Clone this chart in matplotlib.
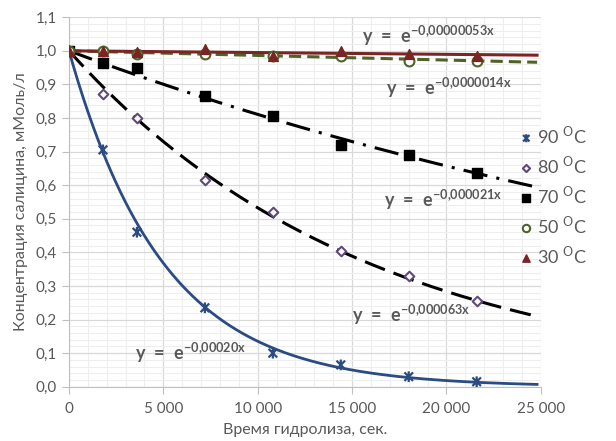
import numpy as np
import matplotlib.pyplot as plt
from matplotlib.path import Path
from matplotlib.ticker import MultipleLocator, FuncFormatter

plt.rcParams['font.family'] = ['Lato', 'DejaVu Sans']
plt.rcParams['mathtext.fontset'] = 'custom'
plt.rcParams['mathtext.rm'] = 'Lato'
plt.rcParams['mathtext.bf'] = 'Lato:bold'

# time points, s
t = [0, 1800, 3600, 7200, 10800, 14400, 18000, 21600]

c90 = [1.0, 0.705, 0.46, 0.235, 0.10, 0.065, 0.03, 0.015]
c80 = [1.0, 0.87, 0.80, 0.615, 0.52, 0.405, 0.33, 0.255]
c70 = [1.0, 0.965, 0.95, 0.865, 0.805, 0.72, 0.69, 0.635]
c50 = [1.0, 1.0, 0.99, 0.99, 0.985, 0.985, 0.97, 0.97]
c30 = [1.0, 1.0, 0.995, 1.005, 0.985, 1.0, 0.99, 0.985]

# trendline coefficients y = exp(-k x)
k = [0.00020, 0.000063, 0.000021, 0.0000014, 0.00000053]
k_txt = ['-0{,}00020x', '-0{,}000063x', '-0{,}000021x', '-0{,}0000014x', '-0{,}00000053x']
k_pos = [(3500, 0.10), (15000, 0.215), (16700, 0.555), (16800, 0.89), (15500, 1.045)]

labels = ['90', '80', '70', '50', '30']

star = Path([(0, -1), (0, 1), (-0.8, -0.8), (0.8, 0.8), (-0.8, 0.8), (0.8, -0.8)],
            [Path.MOVETO, Path.LINETO, Path.MOVETO, Path.LINETO, Path.MOVETO, Path.LINETO])

gray = '#595959'
fig = plt.figure(figsize=(6.16, 4.41), dpi=100)
ax = fig.add_axes([0.112, 0.123, 0.766, 0.838])

xx = np.linspace(0, 24800, 300)
line_cols = ['#2b4c82', 'black', 'black', '#4f6228', '#7b2424']
line_styles = ['-', (0, (7, 3)), (0, (8, 3, 1, 3)), (0, (4, 2)), '-']
for i in range(5):
    ax.plot(xx, np.exp(-k[i] * xx), color=line_cols[i], ls=line_styles[i],
            lw=2.2 if i != 0 else 2.0, zorder=3)

s90 = ax.scatter(t, c90, marker=star, s=60, facecolor='none', edgecolor='#2b4c82', lw=1.6, zorder=4)
s80 = ax.scatter(t, c80, marker='D', s=24, facecolor='white', edgecolor='#5f497a', lw=1.5, zorder=4)
s70 = ax.scatter(t, c70, marker='s', s=50, color='black', zorder=4)
s50 = ax.scatter(t, c50, marker='o', s=50, facecolor='white', edgecolor='#4f6228', lw=1.5, zorder=4)
s30 = ax.scatter(t, c30, marker='^', s=50, color='#7b2424', zorder=4)

for i in range(5):
    ax.text(k_pos[i][0], k_pos[i][1],
            r'$\mathbf{y\ =\ e}^{\mathbf{' + k_txt[i] + '}}$',
            color=gray, fontsize=13, va='center', ha='left', zorder=5)

ax.set_xlim(0, 25000)
ax.set_ylim(0, 1.1)
ax.xaxis.set_major_locator(MultipleLocator(5000))
ax.xaxis.set_minor_locator(MultipleLocator(1000))
ax.yaxis.set_major_locator(MultipleLocator(0.1))
ax.yaxis.set_minor_locator(MultipleLocator(0.02))
ax.xaxis.set_major_formatter(FuncFormatter(lambda v, p: f'{int(v):,}'.replace(',', ' ')))
ax.yaxis.set_major_formatter(FuncFormatter(lambda v, p: f'{v:.1f}'.replace('.', ',')))
ax.grid(which='major', color='#d9d9d9', lw=0.9)
ax.grid(which='minor', color='#eeeeee', lw=0.8)
ax.set_axisbelow(True)
for sp in ['top', 'right']:
    ax.spines[sp].set_visible(False)
ax.spines['left'].set_color('#bfbfbf')
ax.spines['bottom'].set_color('#bfbfbf')
ax.tick_params(which='major', colors='#bfbfbf', labelcolor=gray, labelsize=11, length=5)
ax.tick_params(which='minor', length=0)
ax.tick_params(axis='x', pad=6)

ax.set_xlabel('Время гидролиза, сек.', color=gray, fontsize=11.5, labelpad=5)
ax.set_ylabel('Концентрация салицина, мМоль/л', color=gray, fontsize=11.5, labelpad=6)

fig.legend([s90, s80, s70, s50, s30], [l + r' $^{\mathrm{O}}$C' for l in labels],
           loc='upper left', bbox_to_anchor=(0.828, 0.735), frameon=False,
           fontsize=13, labelcolor=gray, handletextpad=0.1, handlelength=1.0,
           labelspacing=0.45, borderaxespad=0, markerscale=0.75)

fig.savefig('out.png', dpi=100)
